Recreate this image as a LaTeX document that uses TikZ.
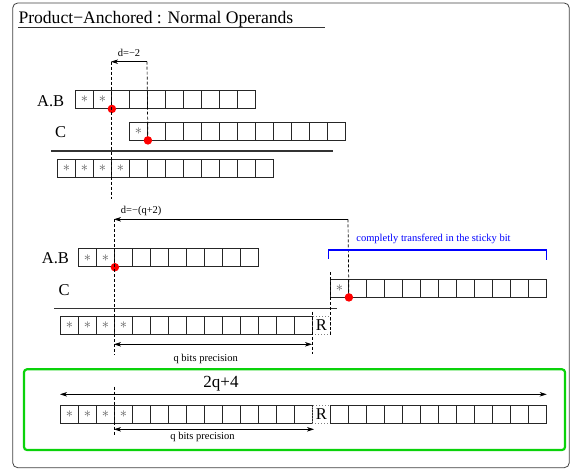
\documentclass[tikz,border=0pt]{standalone}
\usepackage{fontspec}
\setmainfont{Liberation Serif}
\usetikzlibrary{arrows.meta}
\definecolor{boxgreen}{RGB}{10,210,10}
\begin{document}
\begin{tikzpicture}[x=1pt,y=-1pt,font=\fontsize{10.5}{12}\selectfont,
  bit/.style={draw=black!85,line width=0.9pt,minimum width=18pt,minimum height=18pt,inner sep=0pt,anchor=north west},
  rbit/.style={draw=black!50,dotted,line width=0.9pt,minimum width=18pt,minimum height=18pt,inner sep=0pt,anchor=north west,font=\fontsize{16.5}{18}\selectfont},
  stbit/.style={text=black!65,inner sep=0pt,font=\fontsize{15}{15}\selectfont},
  big/.style={font=\fontsize{16.5}{18}\selectfont,inner sep=0pt},
  guide/.style={line width=0.7pt,dash pattern=on 3pt off 2pt},
  redpt/.style={circle,fill=red,inner sep=0pt,minimum size=8.5pt},
  meas/.style={line width=0.7pt,-{Stealth[length=7pt,width=4.5pt,inset=2pt]}},
  meas2/.style={line width=0.7pt,{Stealth[length=7pt,width=4.5pt,inset=2pt]}-{Stealth[length=7pt,width=4.5pt,inset=2pt]}},
  rule/.style={line width=1.3pt,black!80}]
\useasboundingbox (0,0) rectangle (571,471);
\draw[line width=0.8pt,black!75,rounded corners=5pt] (12.7,3) rectangle (569.3,467.7);
\node[anchor=base west,inner sep=0pt,font=\fontsize{17.6}{20}\selectfont] (title) at (18.3,23.3) {Product−Anchored : Normal Operands};
\coordinate (ul-a) at (18,27);
\coordinate (ul-b) at (325,27);
\draw[line width=0.9pt,black!80] (ul-a) -- (ul-b);

% normal case, d=-2
\node[big,anchor=west] (lab1) at (37,101.5) {A.B};
\node[big,anchor=west] (lcc1) at (55,132.2) {C};
\foreach \i in {0,...,9} \node[bit] (ab1-\i) at (75+18*\i,90) {};
\foreach \i in {0,...,11} \node[bit] (cc1-\i) at (129+18*\i,121.5) {};
\foreach \i in {0,...,11} \node[bit] (res1-\i) at (57+18*\i,158.5) {};
\foreach \i in {0,1} \node[stbit] at (ab1-\i) {$\ast$};
\node[stbit] at (cc1-0) {$\ast$};
\foreach \i in {0,...,3} \node[stbit] at (res1-\i) {$\ast$};
\coordinate (rl1a) at (51,151);
\coordinate (rl1b) at (333,151);
\draw[rule] (rl1a) -- (rl1b);
\node[redpt] (pab1) at (ab1-1.south east) {};
\node[redpt] (pcc1) at (cc1-0.south east) {};
\coordinate (d1a) at (111,61.7);
\coordinate (d1b) at (147,61.7);
\coordinate (d1end) at (111,199);
\draw[guide] (d1a) -- (d1end);
\draw[guide] (d1b) -- (pcc1);
\draw[meas] (d1b) -- (d1a);
\node (dlab1) at (129,53) {d=−2};

% big shift, d=-(q+2)
\node[big,anchor=west] (lab2) at (41.7,258) {A.B};
\node[big,anchor=west] (lcc2) at (58.3,290) {C};
\foreach \i in {0,...,9} \node[bit] (ab2-\i) at (78+18*\i,248.3) {};
\foreach \i in {0,...,11} \node[bit] (cc2-\i) at (330+18*\i,278.5) {};
\foreach \i in {0,...,13} \node[bit] (res2-\i) at (60+18*\i,316) {};
\node[rbit] (rb2) at (312,316) {R};
\foreach \i in {0,1} \node[stbit] at (ab2-\i) {$\ast$};
\node[stbit] at (cc2-0) {$\ast$};
\foreach \i in {0,...,3} \node[stbit] at (res2-\i) {$\ast$};
\coordinate (rl2a) at (54.3,308.7);
\coordinate (rl2b) at (336.7,308.7);
\draw[rule] (rl2a) -- (rl2b);
\node[redpt] (pab2) at (ab2-1.south east) {};
\node[redpt] (pcc2) at (cc2-0.south east) {};
\coordinate (d2a) at (114,219.3);
\coordinate (d2b) at (348,219.3);
\coordinate (d2end) at (114,355);
\draw[guide] (d2a) -- (d2end);
\draw[guide] (d2b) -- (pcc2);
\draw[meas] (d2b) -- (d2a);
\node (dlab2) at (141.2,210.8) {d=−(q+2)};
\coordinate (cl2a) at (330,272);
\coordinate (cl2b) at (330,335);
\draw[guide] (cl2a) -- (cl2b);
\coordinate (ql2a) at (312,311.7);
\coordinate (ql2b) at (312,354);
\draw[guide] (ql2a) -- (ql2b);
\coordinate (qa2) at (114,344.3);
\coordinate (qb2) at (312,344.3);
\draw[meas2] (qa2) -- (qb2);
\node (qlab2) at (205.7,359) {q bits precision};
\coordinate (brl) at (328.3,258.5);
\coordinate (brr) at (546.7,260);
\draw[blue,line width=1.2pt] (brl) -- ++(0,-8.5) -| (brr);
\node[text=blue] (stk) at (433.5,238.5) {completly transfered in the sticky bit};

% resulting width
\draw[boxgreen,line width=2.2pt,rounded corners=3pt] (24,369.3) rectangle (565,450);
\node[big,anchor=base,font=\fontsize{17}{19}\selectfont] (wlab) at (221,387) {2q+4};
\coordinate (w3a) at (60,394.3);
\coordinate (w3b) at (546.7,394.3);
\draw[meas2] (w3a) -- (w3b);
\foreach \i in {0,...,13} \node[bit] (res3-\i) at (60+18*\i,405) {};
\node[rbit] (rb3) at (312,405) {R};
\foreach \i in {0,...,11} \node[bit] (lo3-\i) at (330+18*\i,405) {};
\foreach \i in {0,...,3} \node[stbit] at (res3-\i) {$\ast$};
\coordinate (g3a) at (114,386.7);
\coordinate (g3b) at (114,435);
\draw[guide] (g3a) -- (g3b);
\coordinate (qa3) at (114,429.3);
\coordinate (qb3) at (314,429.3);
\draw[meas2] (qa3) -- (qb3);
\node (qlab3) at (202.5,437) {q bits precision};
\end{tikzpicture}
\end{document}
